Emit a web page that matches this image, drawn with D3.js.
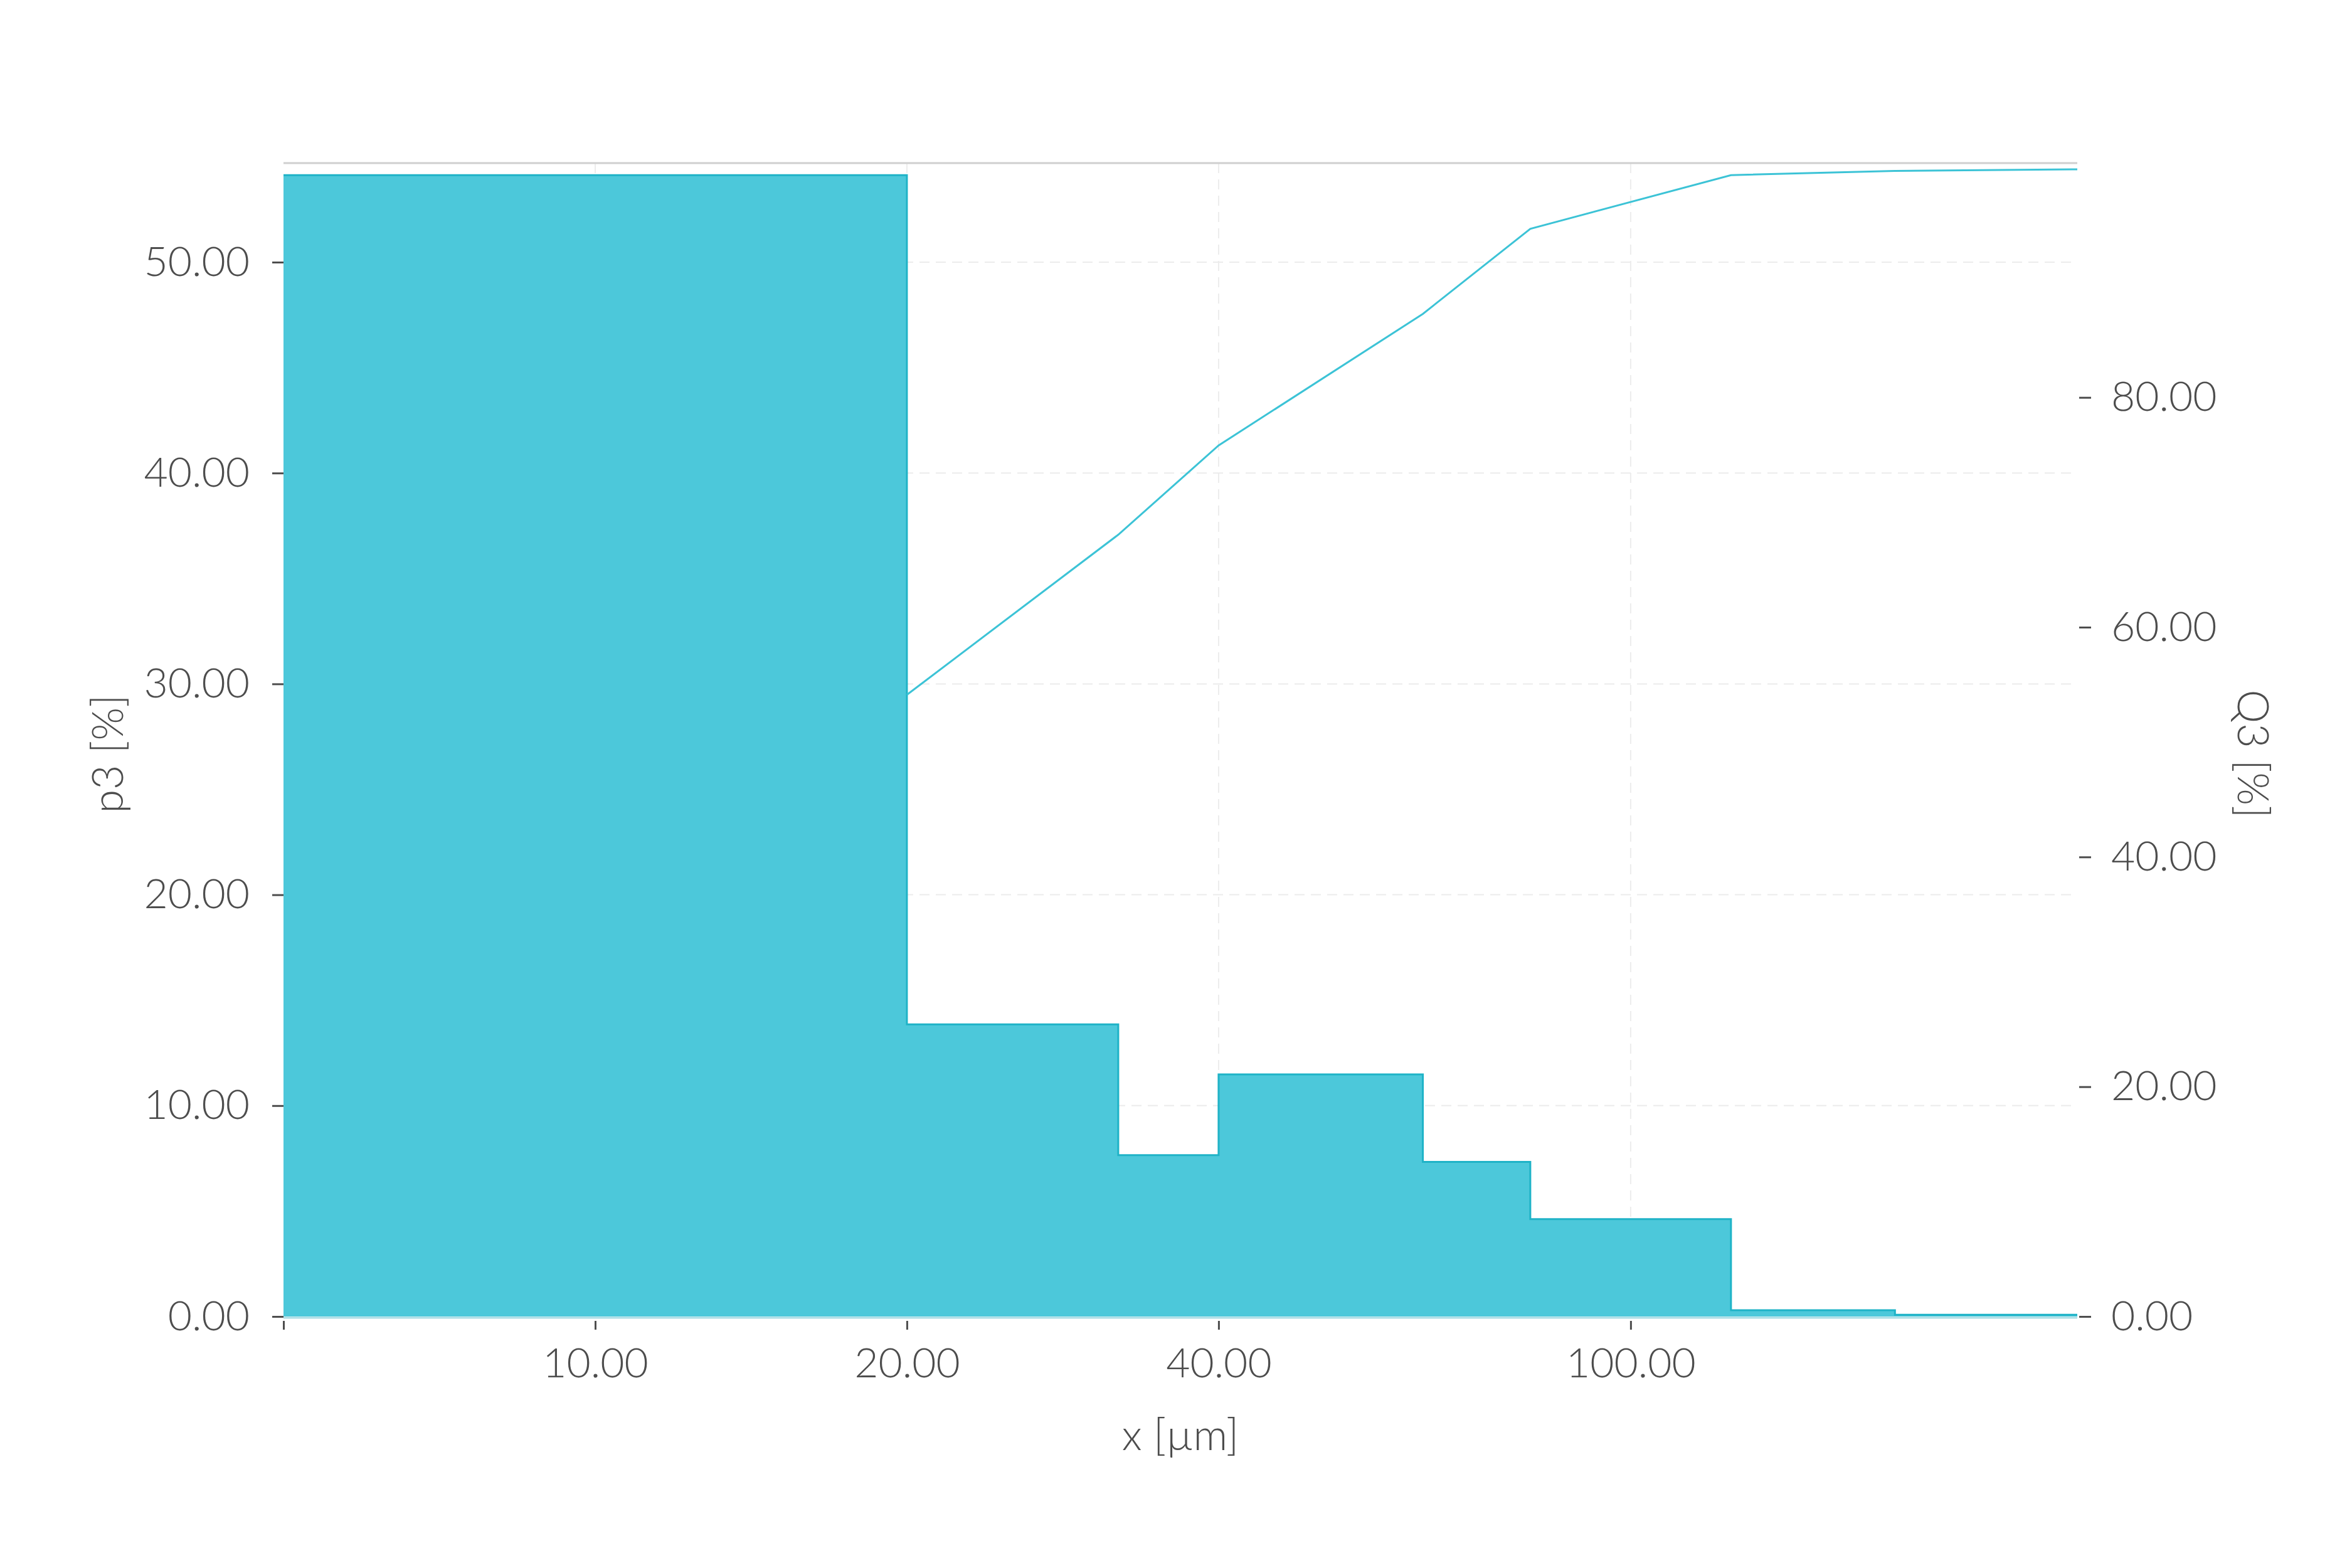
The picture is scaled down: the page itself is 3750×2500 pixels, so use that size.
<!DOCTYPE html>
<html>
<head>
<meta charset="utf-8">
<script src="https://cdn.jsdelivr.net/npm/d3@7"></script>
<style>
  html, body { margin: 0; padding: 0; background: #ffffff; }
  svg { display: block; }
  text { font-family: Lato, "Open Sans", sans-serif; font-weight: 300; fill: #4d4d4d; }
</style>
</head>
<body>
<svg id="chart" width="3750" height="2500"></svg>
<script>
// ---- data ----
const binEdges = [5, 20, 32, 40, 63, 80, 125, 180, 270];      // x [µm]
const p3 = [54.13, 13.85, 7.65, 11.48, 7.33, 4.62, 0.30, 0.08]; // p3 [%] per bin
const q3X = [20, 32, 40, 63, 80, 125, 180, 270];                // upper bin edges
const q3 = [54.12, 68.05, 75.82, 87.27, 94.68, 99.35, 99.72, 99.86]; // Q3 [%]
const xTicks = [10, 20, 40, 100];
const yLeftTicks = [0, 10, 20, 30, 40, 50];
const yRightTicks = [0, 20, 40, 60, 80];
const xTitle = "x [µm]";
const yLeftTitle = "p3 [%]";
const yRightTitle = "Q3 [%]";

// ---- layout ----
const W = 3750, H = 2500;
const m = { left: 452, right: 438, top: 260, bottom: 401 };
const innerW = W - m.left - m.right;
const innerH = H - m.top - m.bottom;

const svg = d3.select("#chart");
const g = svg.append("g").attr("transform", `translate(${m.left},${m.top})`);

const x = d3.scaleLog().domain([5, 270]).range([0, innerW]);
const yL = d3.scaleLinear().domain([0, 54.7]).range([innerH, 0]);
const yR = d3.scaleLinear().domain([0, 100.4]).range([innerH, 0]);

const fmt = d3.format(".2f");

// grid (behind the fill, very faint)
const grid = g.append("g").attr("stroke", "#ececec").attr("stroke-width", 2)
  .attr("stroke-dasharray", "16,10");
grid.selectAll("line.h").data(yLeftTicks.filter(t => t > 0)).join("line")
  .attr("x1", 0).attr("x2", innerW)
  .attr("y1", d => yL(d)).attr("y2", d => yL(d));
grid.selectAll("line.v").data(xTicks).join("line")
  .attr("y1", 0).attr("y2", innerH)
  .attr("x1", d => x(d)).attr("x2", d => x(d));

// histogram step data
const stepData = binEdges.map((e, i) => ({ x: e, v: p3[Math.min(i, p3.length - 1)] }));

// fill
g.append("path")
  .datum(stepData)
  .attr("fill", "#48c7d9")
  .attr("fill-opacity", 0.98)
  .attr("d", d3.area().curve(d3.curveStepAfter)
    .x(d => x(d.x)).y0(yL(0)).y1(d => yL(d.v)));

// step outline
g.append("path")
  .datum(stepData)
  .attr("fill", "none")
  .attr("stroke", "#1fb3c7")
  .attr("stroke-width", 3)
  .attr("d", d3.line().curve(d3.curveStepAfter).x(d => x(d.x)).y(d => yL(d.v)));

// cumulative Q3 line
g.append("path")
  .datum(q3X.map((v, i) => ({ x: v, q: q3[i] })))
  .attr("fill", "none")
  .attr("stroke", "#3cc3d6")
  .attr("stroke-width", 3)
  .attr("d", d3.line().x(d => x(d.x)).y(d => yR(d.q)));

// top frame line
g.append("line").attr("x1", 0).attr("x2", innerW).attr("y1", 0).attr("y2", 0)
  .attr("stroke", "#cfcfcf").attr("stroke-width", 3);
// bottom axis base line
g.append("line").attr("x1", 0).attr("x2", innerW).attr("y1", innerH + 2).attr("y2", innerH + 2)
  .attr("stroke", "#a9dde5").attr("stroke-width", 3);

// axes
function styleAxis(sel) {
  sel.select(".domain").remove();
  sel.selectAll(".tick line").attr("stroke", "#4d4d4d").attr("stroke-width", 3);
  sel.selectAll(".tick text").attr("font-size", 66).attr("fill", "#4d4d4d")
    .style("font-family", "Lato, 'Open Sans', sans-serif").style("font-weight", 300);
}

g.append("g")
  .call(d3.axisLeft(yL).tickValues(yLeftTicks).tickFormat(fmt).tickSize(18).tickPadding(36))
  .call(styleAxis);

g.append("g")
  .attr("transform", `translate(${innerW + 3},0)`)
  .call(d3.axisRight(yR).tickValues(yRightTicks).tickFormat(fmt).tickSize(19).tickPadding(32))
  .call(styleAxis);

g.append("g")
  .attr("transform", `translate(0,${innerH + 7})`)
  .call(d3.axisBottom(x).tickValues([5].concat(xTicks)).tickFormat(d => d === 5 ? "" : fmt(d)).tickSize(14).tickPadding(29))
  .call(styleAxis);

// titles
svg.append("text")
  .attr("x", m.left + innerW / 2).attr("y", 2312)
  .attr("text-anchor", "middle").attr("font-size", 68)
  .text(xTitle);

svg.append("text")
  .attr("transform", `translate(196,1202) rotate(-90)`)
  .attr("text-anchor", "middle").attr("font-size", 68)
  .text(yLeftTitle);

svg.append("text")
  .attr("transform", `translate(3568,1202) rotate(90)`)
  .attr("text-anchor", "middle").attr("font-size", 68)
  .text(yRightTitle);
</script>
</body>
</html>
